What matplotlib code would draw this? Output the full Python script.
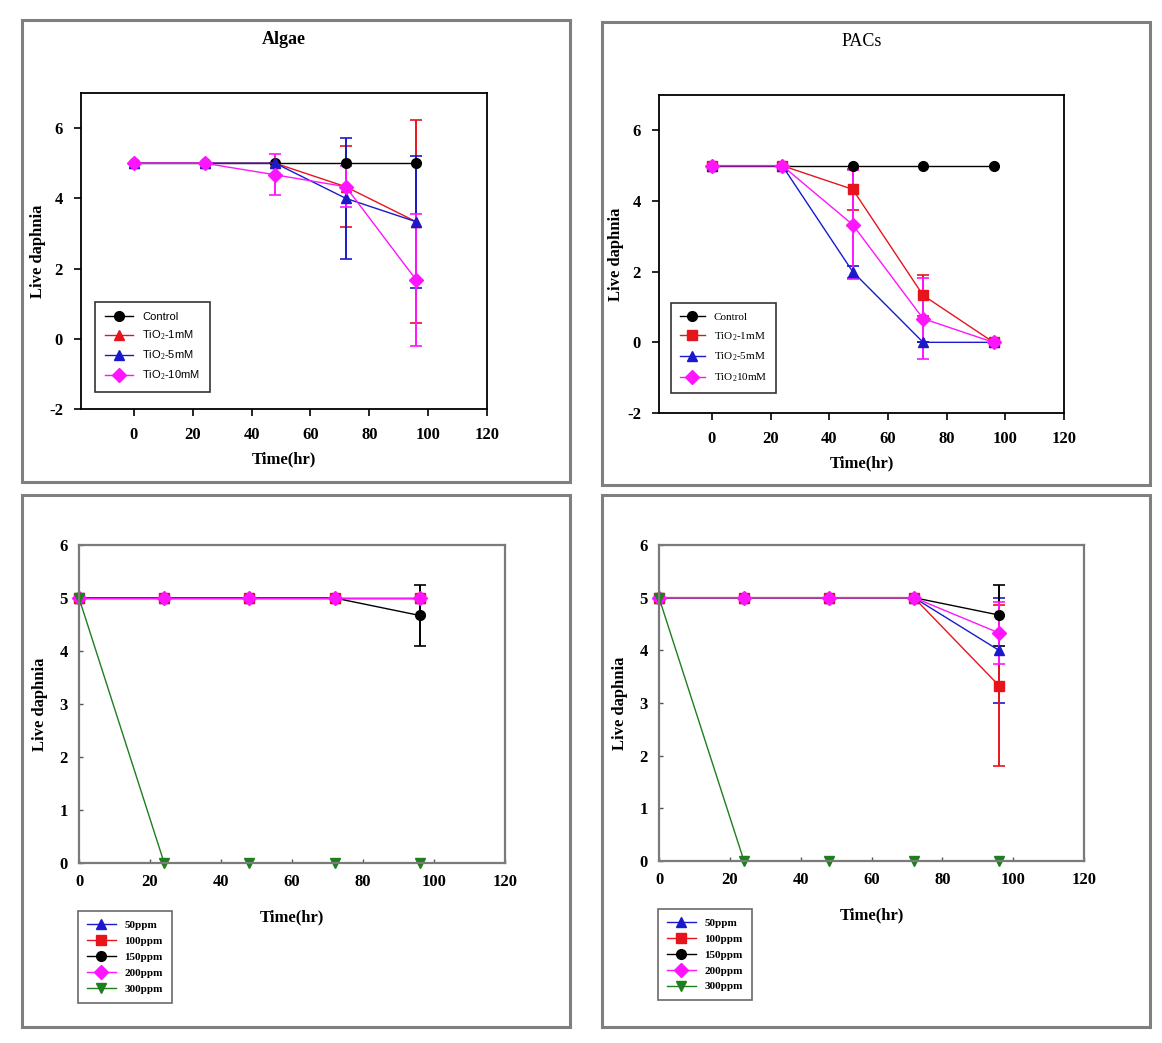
import numpy as np
import matplotlib
matplotlib.use('Agg')
import matplotlib.pyplot as plt
from matplotlib.patches import Rectangle
from matplotlib.lines import Line2D

# time points (hr)
hours = [0, 24, 48, 72, 96]

# --- Algae (top left) ---
algae_ctrl = [5, 5, 5, 5, 5]
algae_1mM = [5, 5, 5, 4.33, 3.33]
algae_1mM_err = [0, 0, 0, 1.15, 2.89]
algae_5mM = [5, 5, 5, 4.0, 3.33]
algae_5mM_err = [0, 0, 0, 1.73, 1.87]
algae_10mM = [5, 5, 4.67, 4.33, 1.67]
algae_10mM_err = [0, 0, 0.58, 0.58, 1.87]

# --- PACs (top right) ---
pacs_ctrl = [5, 5, 5, 5, 5]
pacs_1mM = [5, 5, 4.33, 1.33, 0]
pacs_1mM_err = [0, 0, 0.58, 0.58, 0]
pacs_5mM = [5, 5, 2.0, 0, 0]
pacs_5mM_err = [0, 0, 0.17, 0, 0]
pacs_10mM = [5, 5, 3.33, 0.67, 0]
pacs_10mM_err = [0, 0, 1.55, 1.15, 0]

# --- ppm series (bottom left) ---
bl_50 = [5, 5, 5, 5, 5]
bl_100 = [5, 5, 5, 5, 5]
bl_150 = [5, 5, 5, 5, 4.67]
bl_150_err = [0, 0, 0, 0, 0.58]
bl_200 = [5, 5, 5, 5, 5]
bl_300 = [5, 0, 0, 0, 0]

# --- ppm series (bottom right) ---
br_50 = [5, 5, 5, 5, 4.0]
br_50_err = [0, 0, 0, 0, 1.0]
br_100 = [5, 5, 5, 5, 3.33]
br_100_err = [0, 0, 0, 0, 1.53]
br_150 = [5, 5, 5, 5, 4.67]
br_150_err = [0, 0, 0, 0, 0.58]
br_200 = [5, 5, 5, 5, 4.33]
br_200_err = [0, 0, 0, 0, 0.58]
br_300 = [5, 0, 0, 0, 0]

tio2_labels_sans = ['Control', r'TiO$_2$-1mM', r'TiO$_2$-5mM', r'TiO$_2$-10mM']
tio2_labels_serif = ['Control', r'TiO$_2$-1mM', r'TiO$_2$-5mM', r'TiO$_2$10mM']
ppm_labels = ['50ppm', '100ppm', '150ppm', '200ppm', '300ppm']

plt.rcParams['font.family'] = 'Liberation Serif'
plt.rcParams['axes.unicode_minus'] = False
plt.rcParams['mathtext.fontset'] = 'custom'
plt.rcParams['mathtext.rm'] = 'Liberation Serif'
plt.rcParams['mathtext.it'] = 'Liberation Serif'

W, H = 1162, 1043
fig = plt.figure(figsize=(W / 100, H / 100), dpi=100)
fig.patch.set_facecolor('white')


def px_axes(x0, y0, x1, y1):
    return fig.add_axes([x0 / W, 1 - y1 / H, (x1 - x0) / W, (y1 - y0) / H])


def panel_box(x0, y0, x1, y1):
    fig.patches.append(Rectangle((x0 / W, 1 - y1 / H), (x1 - x0) / W, (y1 - y0) / H,
                                 transform=fig.transFigure, fill=False,
                                 edgecolor='#7f7f7f', linewidth=2.2))


def eb(ax, y, err, color, marker, ms=7, lw=1.0):
    cont = ax.errorbar(hours, y, yerr=err, color=color, marker=marker, markersize=ms,
                       linewidth=lw, elinewidth=1.4, capsize=4, capthick=1.2)
    for art in cont.get_children():
        art.set_clip_on(False)
    return Line2D([], [], color=color, marker=marker, markersize=ms, linewidth=lw)


for box in [(22, 20, 570, 482), (602, 22, 1150, 485), (22, 495, 570, 1027), (602, 495, 1150, 1027)]:
    panel_box(*box)

RED, BLUE, MAG, GREEN = '#e8141c', '#1a1acc', '#ff14ff', '#1f7f1f'


# ---------- top panels ----------
def style_top(ax):
    ax.set_xlim(-18, 120)
    ax.set_ylim(-2, 7)
    ax.set_xticks([0, 20, 40, 60, 80, 100, 120])
    ax.set_yticks([-2, 0, 2, 4, 6])
    ax.tick_params(direction='out', length=5, width=1.2, labelsize=12, pad=8)
    for lab in ax.get_xticklabels() + ax.get_yticklabels():
        lab.set_fontweight('bold')
    for s in ax.spines.values():
        s.set_linewidth(1.3)
    ax.set_xlabel('Time(hr)', fontsize=12, fontweight='bold', labelpad=6)
    ax.set_ylabel('Live daphnia', fontsize=12, fontweight='bold', labelpad=2)


ax1 = px_axes(81, 93, 487, 409)
h1 = [eb(ax1, algae_ctrl, None, 'black', 'o'),
      eb(ax1, algae_1mM, algae_1mM_err, RED, '^'),
      eb(ax1, algae_5mM, algae_5mM_err, BLUE, '^'),
      eb(ax1, algae_10mM, algae_10mM_err, MAG, 'D')]
style_top(ax1)
ax1.set_title('Algae', fontsize=13, fontweight='bold', pad=35)
leg = ax1.legend(h1, tio2_labels_sans, loc='lower left', bbox_to_anchor=(0.022, 0.035),
                 frameon=True, fancybox=False, edgecolor='black',
                 prop={'family': 'Liberation Sans', 'size': 8},
                 handlelength=2.5, borderpad=0.9, labelspacing=0.6)
leg.get_frame().set_linewidth(1.2)

ax2 = px_axes(659, 95, 1064, 413)
h2 = [eb(ax2, pacs_ctrl, None, 'black', 'o'),
      eb(ax2, pacs_1mM, pacs_1mM_err, RED, 's'),
      eb(ax2, pacs_5mM, pacs_5mM_err, BLUE, '^'),
      eb(ax2, pacs_10mM, pacs_10mM_err, MAG, 'D')]
style_top(ax2)
ax2.set_title('PACs', fontsize=13, pad=35)
leg = ax2.legend(h2, tio2_labels_serif, loc='lower left', bbox_to_anchor=(0.015, 0.045),
                 frameon=True, fancybox=False, edgecolor='black',
                 prop={'family': 'Liberation Serif', 'size': 8},
                 handlelength=2.3, borderpad=0.8, labelspacing=0.75)
leg.get_frame().set_linewidth(1.2)


# ---------- bottom panels ----------
def style_bottom(ax):
    ax.set_xlim(0, 120)
    ax.set_ylim(0, 6)
    ax.set_xticks([0, 20, 40, 60, 80, 100, 120])
    ax.set_yticks([0, 1, 2, 3, 4, 5, 6])
    ax.tick_params(direction='in', length=3, width=1.0, labelsize=12, pad=8, color='#555555')
    for lab in ax.get_xticklabels() + ax.get_yticklabels():
        lab.set_fontweight('bold')
    for s in ax.spines.values():
        s.set_linewidth(1.6)
        s.set_color('#7a7a7a')
    ax.set_xlabel('Time(hr)', fontsize=12, fontweight='bold', labelpad=14)
    ax.set_ylabel('Live daphnia', fontsize=12, fontweight='bold', labelpad=8)


def bottom_legend(ax, handles):
    leg = ax.legend(handles, ppm_labels, loc='upper left', bbox_to_anchor=(-0.016, -0.135),
                    frameon=True, fancybox=False, edgecolor='#444444',
                    prop={'family': 'Liberation Serif', 'size': 8, 'weight': 'bold'},
                    handlelength=2.6, borderpad=0.8, labelspacing=0.55)
    leg.get_frame().set_linewidth(1.2)


ax3 = px_axes(79, 545, 505, 863)
h3 = [eb(ax3, bl_50, None, BLUE, '^'),
      eb(ax3, bl_100, None, RED, 's'),
      eb(ax3, bl_150, bl_150_err, 'black', 'o'),
      eb(ax3, bl_200, None, MAG, 'D'),
      eb(ax3, bl_300, None, GREEN, 'v')]
style_bottom(ax3)
bottom_legend(ax3, h3)

ax4 = px_axes(659, 545, 1084, 861)
h4 = [eb(ax4, br_50, br_50_err, BLUE, '^'),
      eb(ax4, br_100, br_100_err, RED, 's'),
      eb(ax4, br_150, br_150_err, 'black', 'o'),
      eb(ax4, br_200, br_200_err, MAG, 'D'),
      eb(ax4, br_300, None, GREEN, 'v')]
style_bottom(ax4)
bottom_legend(ax4, h4)

fig.savefig('out.png', dpi=100)
